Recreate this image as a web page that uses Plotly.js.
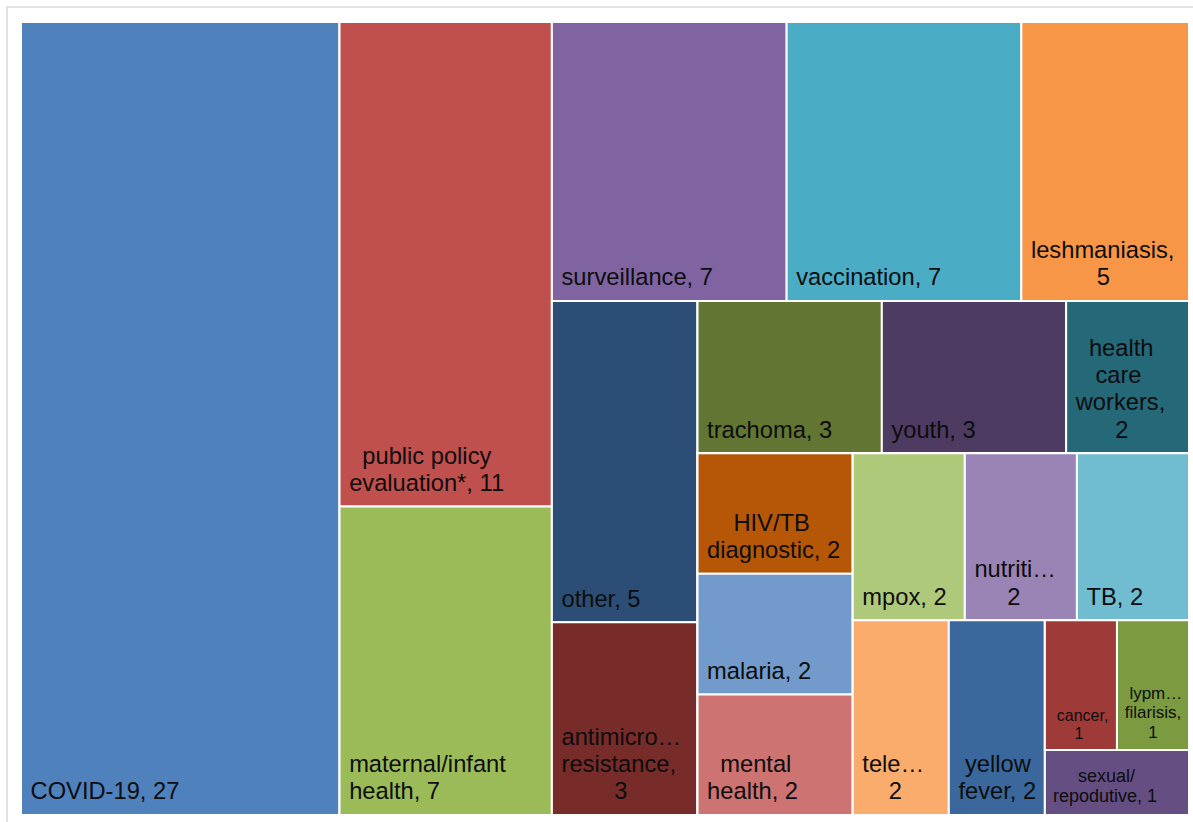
<!DOCTYPE html>
<html><head><meta charset="utf-8">
<script src="https://cdn.plot.ly/plotly-3.0.1.min.js"></script>
<style>html,body{margin:0;padding:0;background:#fff}#chart{width:1193px;height:822px}</style>
</head><body><div id="chart"></div>
<script>
// ---- data ----
const categories = ["COVID-19","public policy evaluation*","maternal/infant health","surveillance","vaccination","leshmaniasis","other","antimicrobial resistance","trachoma","youth","health care workers","HIV/TB diagnostic","malaria","mental health","mpox","nutrition","TB","telehealth","yellow fever","cancer","lymphatic filariasis","sexual/reproductive"];
const counts = [27,11,7,7,7,5,5,3,3,3,2,2,2,2,2,2,2,2,2,1,1,1];
// label text as drawn on each tile ({v} = count, \n = wrap)
const tileLabels = ["COVID-19, {v}","public policy\nevaluation*, {v}","maternal/infant\nhealth, {v}","surveillance, {v}","vaccination, {v}","leshmaniasis,\n{v}","other, {v}","antimicro…\nresistance,\n{v}","trachoma, {v}","youth, {v}","health\ncare\nworkers,\n{v}","HIV/TB\ndiagnostic, {v}","malaria, {v}","mental\nhealth, {v}","mpox, {v}","nutriti…\n{v}","TB, {v}","tele…\n{v}","yellow\nfever, {v}","cancer,\n{v}","lypm…\nfilarisis,\n{v}","sexual/\nrepodutive, {v}"];

// ---- styles ----
const tileColors = ["#4F81BD","#C0504D","#9BBB59","#8064A2","#4BACC6","#F79646","#2C4D75","#772C2A","#637532","#4D3B62","#256878","#B65708","#729ACA","#CD7371","#AFC97A","#9A84B6","#70BCD1","#F9AC6C","#3A679C","#9E3B38","#7C9B41","#644E82"];
const tileFontSizes = [23.7,23.7,23.7,23.7,23.7,23.7,23.7,23.7,23.7,23.7,23.7,23.7,23.7,23.7,23.7,23.7,23.7,23.7,23.7,16,17,18];
const leftAlignedLines = [2];
// nesting of tiles (category indices) used to reproduce the slice/dice tiling
const tiling = [0, [1,2], [[3,4,5], [[6,7], [[8,9,10], [[11,12,13], [[14,15,16], [17,18,[[19,20],21]]]]]]]];

const FONT = 'Liberation Sans';
const INSET = 7;
const LINE_FACTOR = 1.15 / 1.3;   // Plotly line step is 1.3em of the base size
const LIFT = 7.4 / 23;            // extra bottom inset of the labels, per px of font size
const ctx = document.createElement('canvas').getContext('2d');
function tw(s, size){ ctx.font = size + 'px "' + FONT + '"'; return ctx.measureText(s).width; }
function gap(px, size){
  const n = Math.max(0, Math.round(px / tw('\u00a0', size)));
  return '\u00a0'.repeat(n);
}
function tileText(i){
  const size = tileFontSizes[i];
  const lines = tileLabels[i].replace('{v}', counts[i]).split('\n');
  const widths = lines.map(l => tw(l, size));
  const maxW = Math.max(...widths);
  const centered = leftAlignedLines.indexOf(i) < 0;
  return lines.map((l, k) =>
    '<span style="font-size:' + size + 'px">' +
      gap(INSET + (centered ? (maxW - widths[k]) / 2 : 0), size) + l + '</span>'
  ).join('<br>');
}

const ids = ['root'], labels = [''], parents = [''], values = [0], colors = ['#ffffff'], texts = [''], sizes = [12];
let gCount = 0;
function build(node, parent){
  if (typeof node === 'number') {
    ids.push('c' + node); labels.push(categories[node]); parents.push(parent);
    values.push(counts[node]); colors.push(tileColors[node]); texts.push(tileText(node));
    sizes.push(+(tileFontSizes[node] * LINE_FACTOR).toFixed(2));
  } else {
    const id = 'g' + (++gCount);
    ids.push(id); labels.push(''); parents.push(parent); values.push(0);
    colors.push('#ffffff'); texts.push(''); sizes.push(12);
    node.forEach(ch => build(ch, id));
  }
}
tiling.forEach(ch => build(ch, 'root'));

const L = 21, R = 4, T = 22, B = 7, W = 1193 - L - R, H = 822 - T - B;
const px = x => (x - L) / W, py = y => 1 - (y - T) / H;

const gd = document.getElementById('chart');
function liftLabels(){
  gd.querySelectorAll('text.slicetext').forEach(el => {
    const tr = el.getAttribute('transform') || '';
    if (el._lifted === tr) return;
    const base = parseFloat(el.style.fontSize) || 20;
    const d = (LIFT * base / LINE_FACTOR).toFixed(2);
    const nt = 'translate(0,-' + d + ') ' + tr;
    el.setAttribute('transform', nt);
    el._lifted = nt;
  });
}

Plotly.newPlot(gd, [{
  type: 'treemap',
  ids: ids, labels: labels, parents: parents, values: values,
  branchvalues: 'remainder',
  sort: false,
  text: texts,
  textinfo: 'text',
  textposition: 'bottom left',
  hovertemplate: '%{label}: %{value}<extra></extra>',
  tiling: {packing: 'slice-dice', pad: 0},
  pathbar: {visible: false},
  maxdepth: -1,
  marker: {colors: colors, line: {color: '#ffffff', width: 2}, pad: {t: 0, l: 0, r: 0, b: 0}},
  textfont: {family: FONT + ', Arial, sans-serif', size: sizes, color: '#0d0d0d'}
}], {
  width: 1193, height: 822,
  margin: {l: L, r: R, t: T, b: B},
  paper_bgcolor: '#ffffff',
  showlegend: false,
  shapes: [{type: 'rect', xref: 'paper', yref: 'paper', x0: px(7), x1: px(1205), y0: py(7), y1: py(835),
            line: {color: '#d9d9d9', width: 1.5}, fillcolor: 'rgba(0,0,0,0)'}]
}, {displayModeBar: false, responsive: false}).then(() => {
  liftLabels();
  gd.on('plotly_afterplot', liftLabels);
});
</script>
</body></html>
